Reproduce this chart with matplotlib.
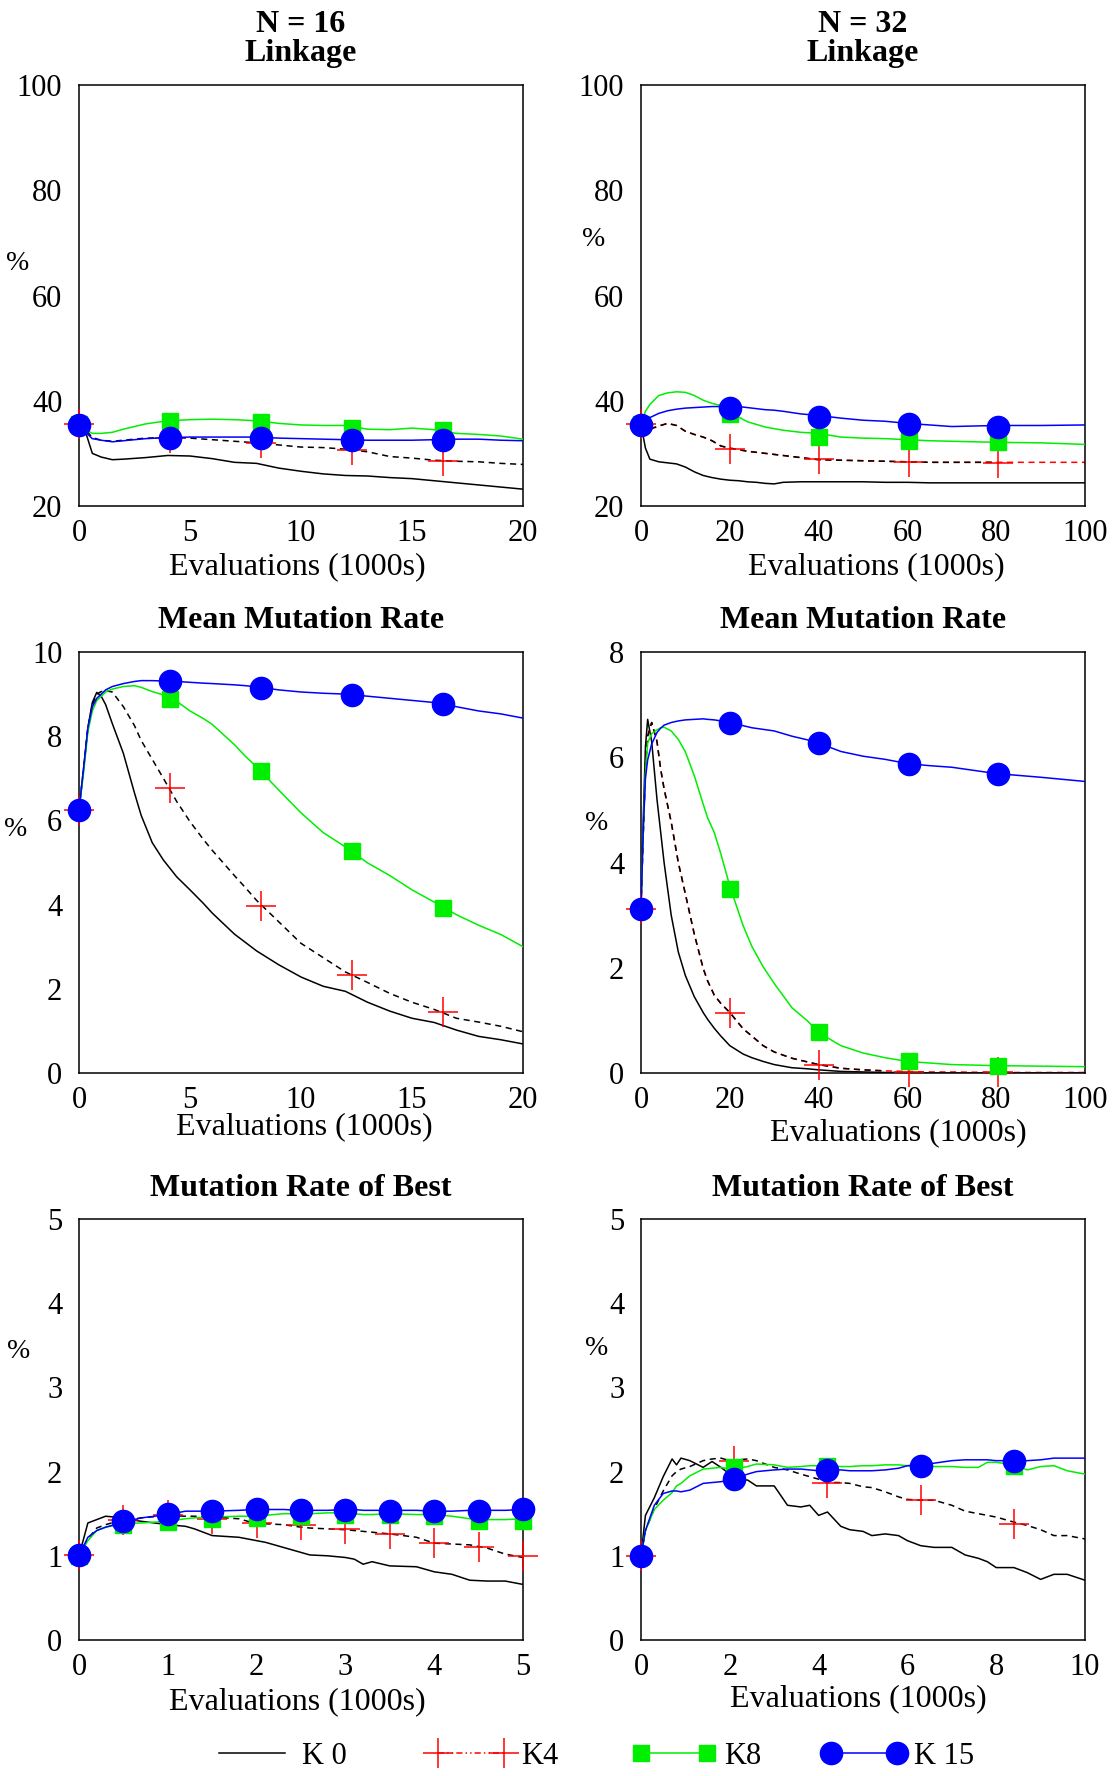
import numpy as np
import matplotlib.pyplot as plt
from matplotlib.lines import Line2D

plt.rcParams['font.family'] = ['Liberation Serif', 'DejaVu Serif']

W, H = 1117, 1776

# ---- N=16, linkage (%) ----
link16_x = [0, 0.3, 0.6, 1, 1.5, 2, 3, 4, 5, 6, 7, 8, 9, 10, 11, 12, 13, 14, 15, 16, 17, 18, 19, 20]
link16_k0 = [35.5, 34.0, 30.0, 29.3, 28.8, 28.9, 29.2, 29.6, 29.5, 29.0, 28.3, 28.1, 27.2, 26.6, 26.1, 25.8,
             25.7, 25.4, 25.2, 24.8, 24.4, 24.0, 23.6, 23.2]
link16_k4 = [35.5, 34.5, 33.0, 32.5, 32.3, 32.5, 32.9, 33.0, 32.9, 32.6, 32.3, 32.0, 31.6, 31.2, 31.1, 30.8,
             30.3, 29.4, 29.1, 28.7, 28.5, 28.4, 28.1, 27.9]
link16_k8 = [35.5, 34.5, 33.8, 33.8, 34.0, 34.6, 35.6, 36.2, 36.4, 36.5, 36.4, 36.2, 35.7, 35.4, 35.3, 35.3,
             34.6, 34.5, 34.8, 34.5, 33.8, 33.6, 33.3, 32.7]
link16_k15 = [35.5, 34.0, 32.8, 32.5, 32.2, 32.4, 32.8, 33.0, 33.1, 33.1, 33.1, 33.1, 32.9, 32.8, 32.7, 32.6,
              32.5, 32.5, 32.5, 32.6, 32.7, 32.7, 32.5, 32.4]
link16_mx = [0, 4.1, 8.2, 12.3, 16.4]
link16_m4 = [35.5, 32.9, 31.9, 30.7, 28.6]
link16_m8 = [35.5, 36.2, 35.9, 34.9, 34.4]
link16_m15 = [35.3, 33.0, 32.9, 32.6, 32.6]

# ---- N=32, linkage (%) ----
link32_x = [0, 1, 2, 4, 6, 8, 10, 12, 14, 16, 18, 20, 22, 24, 26, 28, 30, 32, 36, 40, 45, 50, 55, 60, 65, 70,
            80, 90, 100]
link32_k0 = [35.5, 31.0, 28.9, 28.4, 28.2, 28.0, 27.4, 26.5, 25.8, 25.4, 25.1, 24.9, 24.8, 24.6, 24.5, 24.3,
             24.2, 24.5, 24.6, 24.6, 24.6, 24.6, 24.5, 24.5, 24.4, 24.4, 24.4, 24.4, 24.4]
link32_k4 = [35.5, 35.0, 34.6, 35.2, 35.7, 35.3, 34.2, 33.6, 33.1, 32.4, 31.4, 31.0, 30.7, 30.4, 30.2, 30.0,
             29.8, 29.6, 29.2, 28.8, 28.7, 28.6, 28.5, 28.4, 28.3, 28.3, 28.3, 28.3, 28.3]
link32_k8 = [35.5, 38.0, 39.3, 41.0, 41.5, 41.7, 41.6, 41.0, 40.1, 39.5, 39.1, 38.0, 36.9, 36.0, 35.5, 35.0,
             34.7, 34.4, 34.0, 33.8, 33.1, 32.9, 32.8, 32.6, 32.4, 32.3, 32.1, 32.0, 31.7]
link32_k15 = [35.5, 36.2, 36.8, 37.6, 38.1, 38.4, 38.6, 38.7, 38.8, 38.9, 38.9, 38.9, 38.9, 38.7, 38.5, 38.3,
              38.2, 38.0, 37.5, 37.2, 36.7, 36.3, 36.1, 35.7, 35.4, 35.1, 35.3, 35.3, 35.4]
link32_mx = [0, 20.1, 40.2, 60.3, 80.4]
link32_m4 = [35.5, 30.8, 28.9, 28.4, 28.2]
link32_m8 = [35.5, 37.4, 33.1, 32.4, 32.1]
link32_m15 = [35.3, 38.6, 37.0, 35.6, 35.1]

# ---- N=16, mean mutation rate (%) ----
mean16_x = [0, 0.2, 0.4, 0.6, 0.8, 1.0, 1.2, 1.5, 2, 2.5, 2.8, 3.3, 3.8, 4.4, 5, 5.6, 6, 7, 7.5, 8, 9, 10,
            11, 12, 13, 14, 15, 16, 17, 18, 19, 20]
mean16_k0 = [6.25, 7.2, 8.2, 8.8, 9.04, 8.95, 8.75, 8.3, 7.59, 6.65, 6.12, 5.47, 5.06, 4.66, 4.35, 4.03, 3.8,
             3.3, 3.1, 2.9, 2.57, 2.28, 2.06, 1.94, 1.68, 1.47, 1.30, 1.20, 1.02, 0.87, 0.79, 0.69]
mean16_k4 = [6.25, 7.2, 8.2, 8.75, 9.0, 9.06, 9.08, 9.05, 8.7, 8.25, 7.9, 7.45, 7.0, 6.45, 5.97, 5.55, 5.29,
             4.69, 4.4, 4.1, 3.59, 3.08, 2.74, 2.40, 2.15, 1.89, 1.68, 1.51, 1.30, 1.21, 1.11, 0.98]
mean16_k8 = [6.25, 7.1, 8.1, 8.6, 8.85, 8.95, 9.05, 9.12, 9.18, 9.2, 9.16, 9.06, 8.98, 8.83, 8.6, 8.42, 8.28,
             7.8, 7.52, 7.27, 6.72, 6.18, 5.71, 5.37, 4.99, 4.69, 4.35, 4.06, 3.76, 3.51, 3.29, 3.0]
mean16_k15 = [6.25, 7.2, 8.2, 8.7, 8.9, 9.0, 9.1, 9.18, 9.25, 9.3, 9.32, 9.32, 9.31, 9.3, 9.28, 9.26, 9.25,
              9.22, 9.2, 9.17, 9.1, 9.05, 9.02, 9.0, 8.95, 8.9, 8.85, 8.8, 8.7, 8.6, 8.53, 8.43]
mean16_mx = [0, 4.1, 8.2, 12.3, 16.4]
mean16_m4 = [6.25, 6.77, 3.96, 2.32, 1.45]
mean16_m8 = [6.25, 8.88, 7.17, 5.27, 3.93]
mean16_m15 = [6.25, 9.3, 9.15, 8.97, 8.77]

# ---- N=32, mean mutation rate (%) ----
mean32_x = [0, 0.5, 1, 1.5, 2.4, 3.6, 4.4, 5.2, 6.8, 8.4, 10, 12, 14, 15, 16.5, 18, 20, 23, 25, 27.5, 30, 34,
            37.5, 40, 45, 50, 55, 60, 65, 70, 80, 90, 100]
mean32_k0 = [3.15, 4.8, 6.2, 6.72, 6.3, 5.2, 4.6, 4.0, 3.0, 2.3, 1.85, 1.45, 1.15, 1.02, 0.85, 0.7, 0.52,
             0.36, 0.29, 0.22, 0.16, 0.10, 0.08, 0.06, 0.03, 0.02, 0.01, 0.01, 0.0, 0.0, 0.0, 0.0, 0.0]
mean32_k4 = [3.15, 4.5, 5.8, 6.4, 6.66, 6.3, 5.79, 5.4, 4.77, 4.0, 3.40, 2.64, 1.99, 1.75, 1.48, 1.32, 1.15,
             0.84, 0.70, 0.52, 0.40, 0.28, 0.21, 0.16, 0.09, 0.06, 0.04, 0.03, 0.02, 0.02, 0.01, 0.01, 0.01]
mean32_k8 = [3.15, 4.6, 5.7, 6.27, 6.45, 6.52, 6.56, 6.57, 6.5, 6.34, 6.1, 5.65, 5.11, 4.85, 4.57, 4.16, 3.55,
             2.80, 2.40, 2.02, 1.70, 1.24, 0.99, 0.77, 0.52, 0.38, 0.29, 0.22, 0.19, 0.16, 0.14, 0.13, 0.12]
mean32_k15 = [3.15, 4.6, 5.6, 5.95, 6.25, 6.47, 6.55, 6.61, 6.66, 6.69, 6.71, 6.72, 6.73, 6.72, 6.71, 6.69,
              6.66, 6.6, 6.56, 6.53, 6.5, 6.40, 6.33, 6.27, 6.11, 6.02, 5.96, 5.88, 5.84, 5.81, 5.69, 5.62, 5.54]
mean32_mx = [0, 20.1, 40.2, 60.3, 80.4]
mean32_m4 = [3.12, 1.14, 0.16, 0.02, 0.01]
mean32_m8 = [3.12, 3.50, 0.77, 0.22, 0.14]
mean32_m15 = [3.12, 6.66, 6.27, 5.88, 5.68]

# ---- N=16, mutation rate of best (%) ----
best16_x = [0, 0.1, 0.2, 0.3, 0.4, 0.5, 0.7, 1.0, 1.2, 1.3, 1.5, 1.8, 2.0, 2.1, 2.3, 2.5, 2.6, 2.8, 3.0, 3.1,
            3.2, 3.3, 3.5, 3.8, 4.0, 4.2, 4.4, 4.6, 4.8, 5.0]
best16_k0 = [1.0, 1.39, 1.43, 1.47, 1.46, 1.44, 1.41, 1.37, 1.35, 1.32, 1.24, 1.22, 1.18, 1.16, 1.10, 1.04,
             1.01, 1.0, 0.98, 0.96, 0.90, 0.93, 0.88, 0.87, 0.81, 0.78, 0.71, 0.70, 0.70, 0.66]
best16_k4 = [1.0, 1.2, 1.33, 1.37, 1.40, 1.42, 1.45, 1.48, 1.47, 1.47, 1.46, 1.44, 1.38, 1.38, 1.37, 1.34,
             1.33, 1.32, 1.31, 1.30, 1.29, 1.28, 1.26, 1.22, 1.15, 1.14, 1.13, 1.09, 1.02, 0.98]
best16_k8 = [1.0, 1.18, 1.30, 1.34, 1.36, 1.38, 1.39, 1.41, 1.44, 1.45, 1.46, 1.47, 1.47, 1.48, 1.50, 1.50,
             1.50, 1.51, 1.51, 1.50, 1.49, 1.49, 1.50, 1.49, 1.49, 1.47, 1.44, 1.43, 1.43, 1.44]
best16_k15 = [1.0, 1.22, 1.30, 1.34, 1.37, 1.40, 1.45, 1.49, 1.53, 1.53, 1.53, 1.54, 1.55, 1.55, 1.55, 1.54,
              1.54, 1.54, 1.55, 1.55, 1.54, 1.54, 1.54, 1.54, 1.53, 1.53, 1.54, 1.54, 1.54, 1.55]
best16_mx = [0, 0.5, 1.0, 1.5, 2.0, 2.5, 3.0, 3.5, 4.0, 4.5, 5.0]
best16_m4 = [1.01, 1.43, 1.48, 1.44, 1.39, 1.36, 1.32, 1.26, 1.15, 1.10, 1.0]
best16_m8 = [1.0, 1.36, 1.40, 1.44, 1.45, 1.47, 1.48, 1.48, 1.47, 1.41, 1.41]
best16_m15 = [1.01, 1.41, 1.50, 1.53, 1.55, 1.54, 1.54, 1.53, 1.53, 1.53, 1.56]

# ---- N=32, mutation rate of best (%) ----
best32_x = [0, 0.1, 0.3, 0.5, 0.7, 0.8, 0.9, 1.1, 1.4, 1.6, 1.8, 2.0, 2.2, 2.4, 2.6, 3.0, 3.3, 3.6, 3.8, 4.0,
            4.2, 4.5, 4.7, 5.0, 5.2, 5.5, 5.8, 6.0, 6.3, 6.6, 7.0, 7.3, 7.6, 7.8, 8.0, 8.4, 8.7, 9.0, 9.3, 9.6, 10]
best32_k0 = [1.0, 1.48, 1.69, 1.94, 2.15, 2.08, 2.16, 2.13, 2.05, 2.12, 2.05, 1.97, 1.90, 1.90, 1.83, 1.83,
             1.60, 1.58, 1.60, 1.48, 1.52, 1.35, 1.31, 1.29, 1.24, 1.26, 1.24, 1.18, 1.12, 1.10, 1.10, 1.01,
             0.97, 0.93, 0.86, 0.86, 0.80, 0.72, 0.78, 0.78, 0.71]
best32_k4 = [1.0, 1.3, 1.56, 1.77, 1.95, 2.0, 2.03, 2.06, 2.13, 2.15, 2.16, 2.13, 2.14, 2.15, 2.13, 2.05,
             2.02, 1.97, 1.94, 1.91, 1.87, 1.87, 1.86, 1.82, 1.81, 1.76, 1.70, 1.67, 1.66, 1.66, 1.60, 1.53,
             1.50, 1.48, 1.46, 1.40, 1.36, 1.31, 1.24, 1.24, 1.20]
best32_k8 = [1.0, 1.3, 1.55, 1.66, 1.75, 1.83, 1.86, 1.95, 2.03, 2.04, 2.05, 2.03, 2.04, 2.06, 2.09, 2.08,
             2.05, 2.06, 2.07, 2.07, 2.07, 2.06, 2.06, 2.07, 2.07, 2.08, 2.08, 2.07, 2.07, 2.06, 2.06, 2.05,
             2.05, 2.11, 2.11, 2.08, 2.02, 2.06, 2.07, 2.01, 1.97]
best32_k15 = [1.0, 1.3, 1.60, 1.74, 1.77, 1.77, 1.76, 1.78, 1.86, 1.87, 1.88, 1.90, 1.93, 1.97, 2.0, 2.02,
              2.03, 2.03, 2.02, 2.01, 2.01, 2.02, 2.01, 2.01, 2.01, 2.02, 2.04, 2.07, 2.08, 2.10, 2.13, 2.14,
              2.14, 2.14, 2.13, 2.13, 2.13, 2.14, 2.16, 2.16, 2.16]
best32_mx = [0, 2.1, 4.2, 6.3, 8.4]
best32_m4 = [1.0, 2.13, 1.87, 1.66, 1.38]
best32_m8 = [1.0, 2.05, 2.07, 2.07, 2.07]
best32_m15 = [1.0, 1.91, 2.02, 2.07, 2.13]

GREEN = '#00ee00'
BLUE = '#0000ff'
RED = '#ff0000'
DASH = (0, (4, 3))


def px(x, y):
    return x / W, 1 - y / H


def draw_panel(ax, x, k0, k4, k8, k15, mx, m4, m8, m15, xlim, ylim, xticks, yticks, red_from=None):
    x = np.array(x)
    k4 = np.array(k4)
    ax.plot(x, k0, color='black', lw=1.1)
    if red_from is not None:
        ax.plot(x, k4, color=RED, lw=1.1, ls=DASH)
        keep = x <= red_from
        ax.plot(x[keep], k4[keep], color='black', lw=1.1, ls=DASH)
    else:
        ax.plot(x, k4, color='black', lw=1.1, ls=DASH)
    ax.plot(mx, m4, ls='none', marker='+', ms=21, mew=1.1, color=RED, clip_on=False, zorder=3)
    ax.plot(x, k8, color=GREEN, lw=1.1, zorder=4)
    ax.plot(mx, m8, ls='none', marker='s', ms=11, color=GREEN, mec=GREEN, clip_on=False, zorder=4)
    ax.plot(x, k15, color=BLUE, lw=1.1, zorder=5)
    ax.plot(mx, m15, ls='none', marker='o', ms=16, color=BLUE, mec=BLUE, clip_on=False, zorder=5)
    ax.set_xlim(xlim)
    ax.set_ylim(ylim)
    ax.set_xticks(xticks)
    ax.set_yticks(yticks)
    ax.tick_params(length=0, labelsize=22)
    ax.tick_params(axis='y', pad=12)
    ax.tick_params(axis='x', pad=9)
    for s in ax.spines.values():
        s.set_linewidth(1.1)


fig = plt.figure(figsize=(W / 100, H / 100), dpi=100)

col_left = [79 / W, 641 / W]
row_bottom = [1 - 506 / H, 1 - 1073 / H, 1 - 1640 / H]
aw, ah = 444 / W, 421 / H

axes = [[fig.add_axes([col_left[c], row_bottom[r], aw, ah]) for c in range(2)] for r in range(3)]

draw_panel(axes[0][0], link16_x, link16_k0, link16_k4, link16_k8, link16_k15,
           link16_mx, link16_m4, link16_m8, link16_m15, (0, 20), (20, 100), range(0, 21, 5), range(20, 101, 20))
draw_panel(axes[0][1], link32_x, link32_k0, link32_k4, link32_k8, link32_k15,
           link32_mx, link32_m4, link32_m8, link32_m15, (0, 100), (20, 100), range(0, 101, 20), range(20, 101, 20),
           red_from=80)
draw_panel(axes[1][0], mean16_x, mean16_k0, mean16_k4, mean16_k8, mean16_k15,
           mean16_mx, mean16_m4, mean16_m8, mean16_m15, (0, 20), (0, 10), range(0, 21, 5), range(0, 11, 2))
draw_panel(axes[1][1], mean32_x, mean32_k0, mean32_k4, mean32_k8, mean32_k15,
           mean32_mx, mean32_m4, mean32_m8, mean32_m15, (0, 100), (0, 8), range(0, 101, 20), range(0, 9, 2),
           red_from=57)
draw_panel(axes[2][0], best16_x, best16_k0, best16_k4, best16_k8, best16_k15,
           best16_mx, best16_m4, best16_m8, best16_m15, (0, 5), (0, 5), range(0, 6), range(0, 6))
draw_panel(axes[2][1], best32_x, best32_k0, best32_k4, best32_k8, best32_k15,
           best32_mx, best32_m4, best32_m8, best32_m15, (0, 10), (0, 5), range(0, 11, 2), range(0, 6))

# titles
tkw = dict(fontsize=23, fontweight='bold', ha='center', va='center')
fig.text(*px(301, 24), 'N = 16', **tkw)
fig.text(*px(301, 54), 'Linkage', **tkw)
fig.text(*px(863, 24), 'N = 32', **tkw)
fig.text(*px(863, 54), 'Linkage', **tkw)
fig.text(*px(301, 621), 'Mean Mutation Rate', **tkw)
fig.text(*px(863, 621), 'Mean Mutation Rate', **tkw)
fig.text(*px(301, 1188), 'Mutation Rate of Best', **tkw)
fig.text(*px(863, 1188), 'Mutation Rate of Best', **tkw)

# y labels
for xy in [(18, 263), (594, 239), (16, 829), (597, 824), (19, 1351), (597, 1348)]:
    fig.text(*px(*xy), '%', fontsize=20, ha='center', va='center')

# x labels
for xy in [(297, 567), (876, 567), (304, 1127), (898, 1133), (297, 1702), (858, 1699)]:
    fig.text(*px(*xy), 'Evaluations (1000s)', fontsize=23, ha='center', va='center')

# legend, one entry at a time so each sits where it should
handles = [
    Line2D([], [], color='black', lw=1.1),
    Line2D([], [], color=RED, lw=1.1, ls=(0, (4, 2, 1, 2, 1, 2)), marker='+', ms=21, mew=1.1),
    Line2D([], [], color=GREEN, lw=1.1, marker='s', ms=11, mec=GREEN),
    Line2D([], [], color=BLUE, lw=1.1, marker='o', ms=16, mec=BLUE),
]
names = ['K 0', 'K4', 'K8', 'K 15']
starts = [210, 429, 632, 822]
for h, name, x0 in zip(handles, names, starts):
    fig.legend(handles=[h], labels=[name], loc='center left', bbox_to_anchor=px(x0, 1756),
               frameon=False, fontsize=22, numpoints=2, handlelength=2.75, handletextpad=0.25,
               borderpad=0, borderaxespad=0)

fig.savefig('out.png', dpi=100)
